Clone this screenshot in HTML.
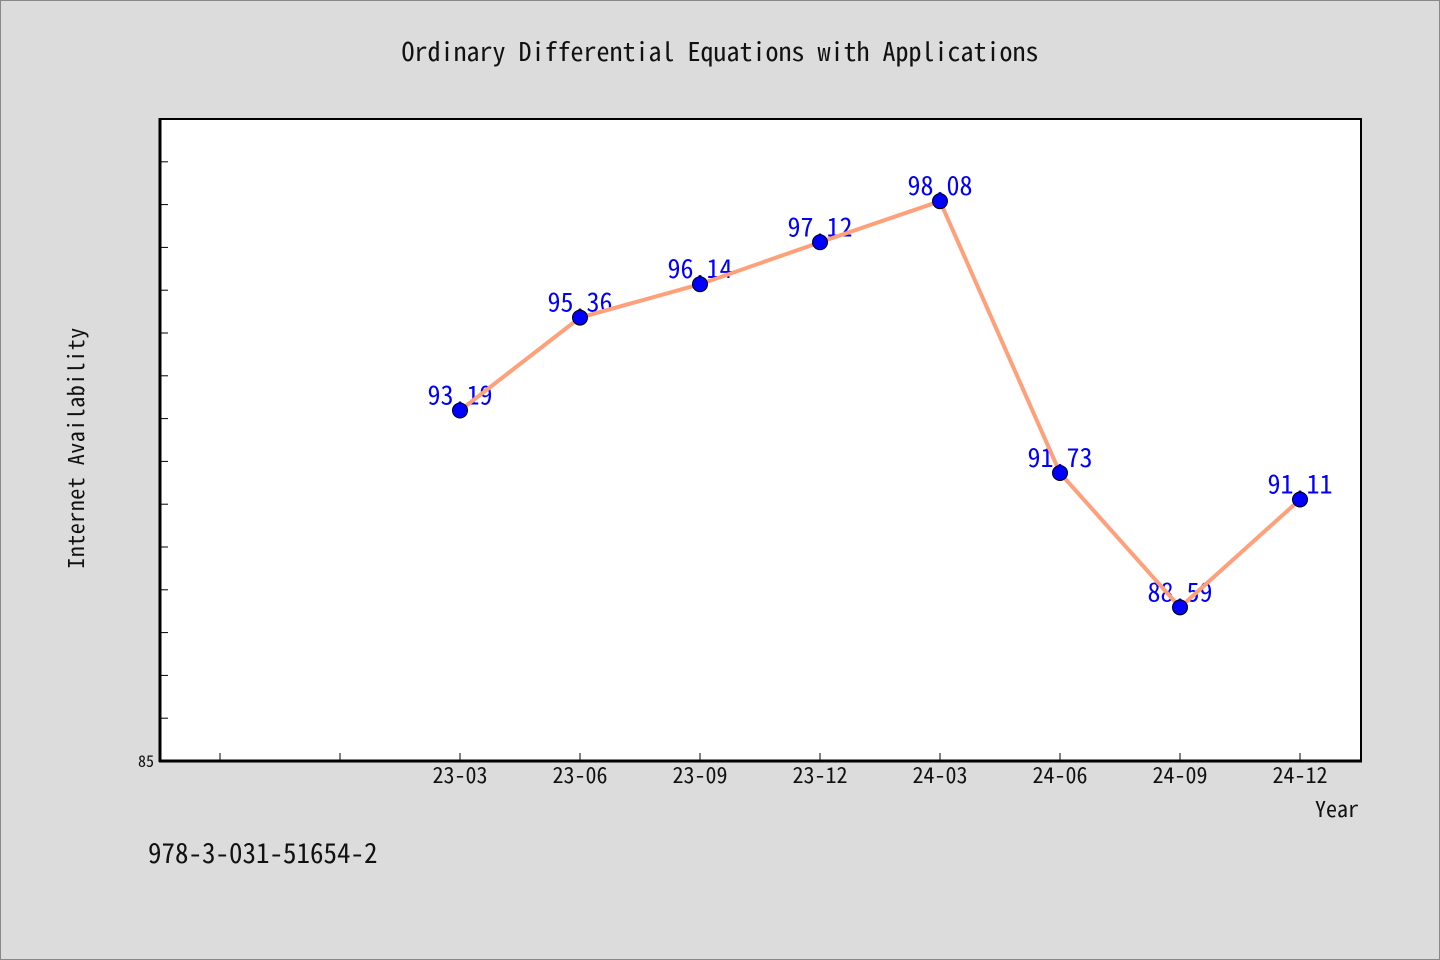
<!DOCTYPE html>
<html><head><meta charset="utf-8"><style>
html,body{margin:0;padding:0;background:#dcdcdc;}
svg{display:block;font-family:"WenQuanYi Zen Hei Mono","Noto Sans Mono CJK SC","Liberation Mono",monospace;}
</style></head><body>
<svg id="chart" width="1440" height="960" xmlns="http://www.w3.org/2000/svg">
<rect x="0.5" y="0.5" width="1439" height="959" fill="#dcdcdc" stroke="#888"/>
<text x="720" y="61" text-anchor="middle" font-size="26" fill="#111">Ordinary Differential Equations with Applications</text>
<rect x="160" y="119" width="1201" height="642" fill="#fff" stroke="#000" stroke-width="2"/>
<g id="ticks"></g>
<line x1="160" y1="118" x2="160" y2="762" stroke="#000" stroke-width="3"/>
<line x1="159" y1="761" x2="1362" y2="761" stroke="#000" stroke-width="3"/>
<text transform="translate(84,448) rotate(-90)" text-anchor="middle" font-size="22" fill="#111" letter-spacing="0.5">Internet Availability</text>
<text x="1359" y="817" text-anchor="end" font-size="22" fill="#111">Year</text>
<text x="148" y="863" font-size="27" fill="#111">978-3-031-51654-2</text>
<g id="series"></g>
</svg>
<script>
const categories = ["", "", "23-03", "23-06", "23-09", "23-12", "24-03", "24-06", "24-09", "24-12"];
const values = [null, null, 93.19, 95.36, 96.14, 97.12, 98.08, 91.73, 88.59, 91.11];
const valueLabels = ["", "", "93.19", "95.36", "96.14", "97.12", "98.08", "91.73", "88.59", "91.11"];
const yMin = 85, yMax = 100;
const yTickLabels = ["85"];

const L = 160, R = 1360, T = 119, B = 761;
const NS = "http://www.w3.org/2000/svg";
function xPos(i){ return L + (R - L) / categories.length * (i + 0.5); }
function yPos(v){ return B - (v - yMin) / (yMax - yMin) * (B - T); }
function mk(tag, attrs, parent){ const e = document.createElementNS(NS, tag); for (const k in attrs) e.setAttribute(k, attrs[k]); parent.appendChild(e); return e; }

const tg = document.getElementById('ticks');
for (let v = yMin + 1; v < yMax; v++) {
  const t = mk('line', {x1: L, x2: L + 8, y1: yPos(v), y2: yPos(v), stroke: '#000', 'stroke-width': 1}, tg);
  
  
}
yTickLabels.forEach(s => {
  const t = mk('text', {x: L - 6, y: yPos(+s) + 6, 'text-anchor': 'end', 'font-size': 16, fill: '#111'}, tg);
  t.textContent = s;
  
  
});
categories.forEach((c, i) => {
  const x = xPos(i);
  const t = mk('line', {x1: x, x2: x, y1: B - 8, y2: B, stroke: '#000', 'stroke-width': 1}, tg);
  
  
  if (c) {
    const l = mk('text', {x: x, y: B + 22, 'text-anchor': 'middle', 'font-size': 22, fill: '#111'}, tg);
    l.textContent = c;
    
    
  }
});

const sg = document.getElementById('series');
values.forEach((v, i) => {
  if (v === null) return;
  const l = mk('text', {x: xPos(i), y: yPos(v) - 6, 'text-anchor': 'middle', 'font-size': 26, fill: '#0000ff'}, sg);
  l.textContent = valueLabels[i];
  
  
});
const pts = values.map((v, i) => v === null ? null : xPos(i) + ',' + yPos(v)).filter(p => p);
const line = mk('polyline', {points: pts.join(' '), fill: 'none', stroke: '#ffa07a', 'stroke-width': 4, 'stroke-linejoin': 'round'}, sg);


values.forEach((v, i) => {
  if (v === null) return;
  const c = mk('circle', {cx: xPos(i), cy: yPos(v), r: 7.5, fill: '#0000ff', stroke: '#000', 'stroke-width': 1}, sg);
  
  
});
</script>
</body></html>
